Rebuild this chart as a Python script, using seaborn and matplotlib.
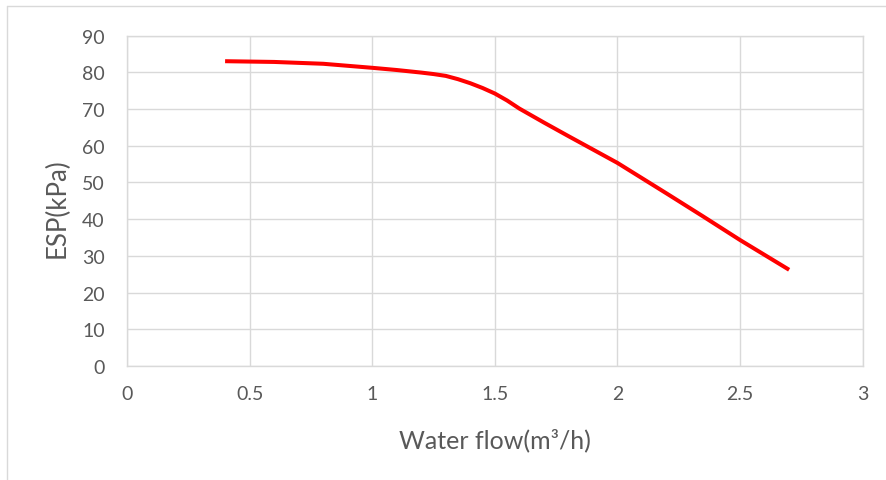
import matplotlib
matplotlib.use("Agg")
import matplotlib.pyplot as plt
from matplotlib.lines import Line2D
import seaborn as sns
import pandas as pd

flow = [0.4, 0.6, 0.8, 1.0, 1.1, 1.2, 1.25, 1.3, 1.35, 1.4, 1.45, 1.5, 1.55, 1.6, 1.7,
        1.8, 2.0, 2.2, 2.35, 2.5, 2.7]
esp = [83.0, 82.8, 82.3, 81.2, 80.6, 79.9, 79.5, 79.0, 78.1, 77.0, 75.7, 74.2, 72.3, 70.1, 66.3,
       62.6, 55.3, 47.0, 40.7, 34.3, 26.2]
x_ticks = [0, 0.5, 1, 1.5, 2, 2.5, 3]
x_tick_labels = ["0", "0.5", "1", "1.5", "2", "2.5", "3"]
y_ticks = [0, 10, 20, 30, 40, 50, 60, 70, 80, 90]

df = pd.DataFrame({"flow": flow, "esp": esp})

sns.set_theme(style="white")
plt.rcParams["font.family"] = ["Lato", "DejaVu Sans"]

W, H = 886, 481
fig = plt.figure(figsize=(W / 100, H / 100), dpi=100)
ax = fig.add_axes([127 / W, 1 - 367 / H, (862.7 - 127) / W, (367 - 36.5) / H])

sns.lineplot(data=df, x="flow", y="esp", ax=ax, color="#ff0000", linewidth=2.9,
             solid_capstyle="butt", solid_joinstyle="round", sort=False)

ax.set_xlim(0, 3)
ax.set_ylim(0, 90)
ax.set_xticks(x_ticks)
ax.set_xticklabels(x_tick_labels)
ax.set_yticks(y_ticks)
ax.grid(True, color="#d9d9d9", linewidth=1.0)
ax.set_axisbelow(True)
for s in ax.spines.values():
    s.set_color("#d9d9d9")
    s.set_linewidth(1.0)
ax.tick_params(axis="both", length=0, labelsize=14, colors="#595959")
ax.tick_params(axis="y", pad=16)
ax.tick_params(axis="x", pad=14)

ax.set_xlabel("Water flow(m³/h)", fontsize=18, color="#595959", va="center", ha="center")
ax.set_ylabel("ESP(kPa)", fontsize=18.5, color="#595959", va="center", ha="center")
ax.xaxis.set_label_coords(0.5, (367 - 440) / (367 - 36.5))
ax.yaxis.set_label_coords((57 - 127) / (862.7 - 127), 0.48)

# outer chart border (top and left visible)
x0 = 7 / W
y0 = 1 - 7 / H
fig.add_artist(Line2D([x0, 1.0], [y0, y0], transform=fig.transFigure, color="#d9d9d9", linewidth=1.0))
fig.add_artist(Line2D([x0, x0], [0.0, y0], transform=fig.transFigure, color="#d9d9d9", linewidth=1.0))

fig.savefig("out.png", dpi=100)
